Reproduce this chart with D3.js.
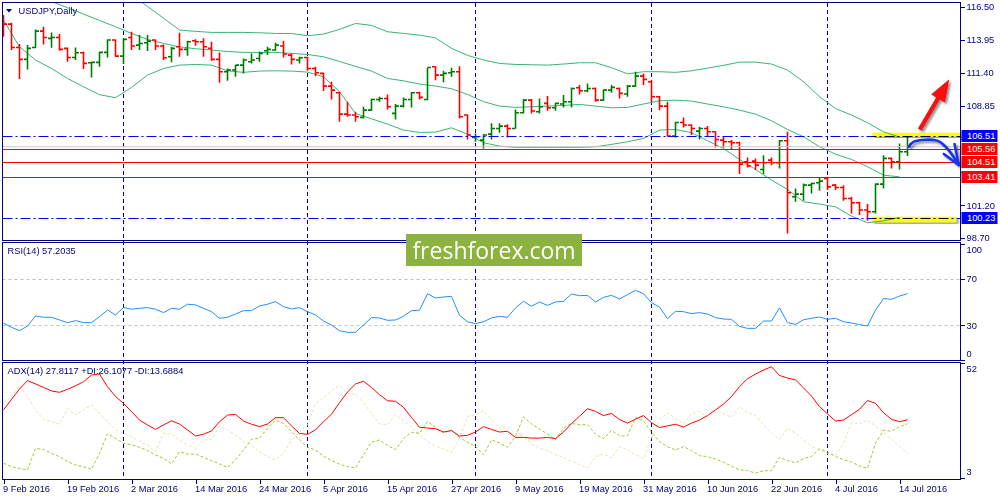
<!DOCTYPE html>
<html>
<head>
<meta charset="utf-8">
<script src="https://cdnjs.cloudflare.com/ajax/libs/d3/7.8.5/d3.min.js"></script>
<style>
  html, body { margin: 0; padding: 0; background: #fff; }
  svg { display: block; }
  text { font-family: 'Liberation Sans', Arial, sans-serif; font-size: 9.3px; fill: #000080; }
  .box-label { fill: #fff; }
  .watermark { font-family: 'Open Sans', sans-serif; font-size: 23px; fill: #fff; }
</style>
</head>
<body>
<div id="chart"></div>
<script>
// USDJPY daily bars, 9 Feb 2016 .. 15 Jul 2016 (one value per trading day)
const open = [115.47,115.16,113.36,112.44,113.36,114.62,114.06,114.13,113.29,112.59,
  112.95,112.18,112.21,112.98,113.93,112.69,114.13,113.54,113.72,113.93,
  113.47,112.64,113.41,113.21,113.88,113.80,113.29,112.44,111.49,111.62,
  112.00,112.26,112.51,113.11,113.16,113.47,112.77,112.39,112.59,111.74,
  111.36,110.38,109.87,108.22,108.15,107.97,108.53,109.35,109.43,108.28,
  108.84,109.35,109.87,109.35,111.87,111.23,111.41,111.49,108.15,106.43,
  106.22,106.68,107.12,107.30,107.12,108.33,109.30,108.40,109.05,108.71,
  109.00,109.18,110.25,110.02,110.20,109.30,110.07,110.20,109.77,110.38,
  111.15,110.72,109.56,108.84,106.53,107.58,107.38,106.91,107.12,106.86,
  106.22,106.09,106.02,104.55,104.60,103.96,104.68,104.47,106.17,101.85,
  102.06,102.75,102.93,103.27,102.75,102.57,101.72,101.39,100.83,100.70,
  102.83,104.81,104.55,105.32];
const high = [115.86,115.26,113.62,113.54,114.75,114.96,114.52,114.39,113.36,113.36,
  113.05,112.26,113.03,113.98,113.98,114.06,114.57,114.31,114.31,113.98,
  113.59,113.41,114.49,113.88,114.00,114.06,113.80,112.98,111.74,112.00,
  112.51,112.90,113.03,113.41,113.72,113.88,112.90,112.64,112.64,111.87,
  111.41,110.72,109.95,109.18,108.40,108.79,109.43,109.56,109.74,109.00,
  109.51,109.90,109.95,111.82,111.92,111.56,111.80,111.92,108.20,106.73,
  106.68,107.51,107.51,107.45,108.58,109.38,109.38,109.43,109.61,109.10,
  109.69,110.28,110.46,110.59,110.28,110.13,110.46,110.28,110.46,111.49,
  111.36,110.84,109.61,109.18,107.63,107.97,107.45,107.25,107.30,106.91,
  106.48,106.22,106.09,104.88,104.81,105.06,104.88,106.22,106.86,102.50,
  102.88,102.96,103.32,103.39,102.83,102.75,101.85,101.47,101.29,102.88,
  105.06,104.88,105.96,106.48];
const low = [114.19,113.16,110.92,111.67,113.29,113.59,113.34,113.11,112.26,112.39,
  111.69,111.05,111.87,112.59,112.64,112.08,113.16,113.16,113.08,113.16,
  112.39,112.21,112.64,112.72,113.49,112.64,112.33,110.64,110.79,111.10,
  111.36,112.13,112.26,112.77,113.11,112.59,112.05,112.13,111.56,111.15,
  110.00,109.35,107.63,108.02,107.63,107.89,108.48,109.18,108.58,107.81,
  108.74,108.74,109.35,109.30,110.84,110.67,111.10,107.89,106.27,106.09,
  105.58,106.27,106.79,106.43,107.12,108.28,108.28,108.28,108.48,108.48,
  108.74,108.74,109.74,109.90,109.18,109.25,109.87,109.43,109.56,110.33,
  110.46,109.18,108.53,106.48,106.43,107.20,106.61,106.27,106.48,105.66,
  105.63,105.45,103.60,104.11,103.91,103.60,104.29,104.04,99.03,101.47,
  101.55,102.11,102.32,102.37,102.37,101.55,100.57,100.44,100.00,100.57,
  102.50,104.04,103.96,104.99];
const close = [115.16,113.36,112.44,113.29,114.62,114.13,114.13,113.21,112.59,112.95,
  112.13,112.21,112.98,113.93,112.69,113.98,113.47,113.67,113.85,113.47,
  112.57,113.29,113.21,113.80,113.80,113.41,112.44,111.49,111.62,112.00,
  112.39,112.39,112.90,113.21,113.54,112.85,112.44,112.57,111.74,111.41,
  110.38,110.07,108.22,108.15,108.02,108.53,109.35,109.43,108.79,108.84,
  109.35,109.87,109.51,111.82,111.23,111.36,111.49,108.02,106.61,106.48,
  106.61,107.12,107.30,107.12,108.33,109.30,108.46,108.79,108.71,109.05,
  109.18,110.20,110.02,110.20,109.30,110.07,110.28,109.82,110.38,111.15,
  110.90,109.56,108.84,106.53,107.58,107.38,107.12,107.12,106.86,106.27,
  106.09,106.02,104.37,104.22,104.29,104.47,104.47,106.17,102.16,102.06,
  102.75,102.88,103.06,102.62,102.57,101.72,101.39,100.83,100.70,102.83,
  104.81,104.55,105.32,105.71];

// Bollinger bands read every second bar (bars 0, 2, 4 ... 112)
const BAND_STEP = 2;
const bbUpper = [122.0,121.7,121.3,120.8,120.2,119.6,119.0,118.2,117.4,116.52,
  115.62,114.70,114.60,114.52,114.52,114.52,114.49,114.44,114.44,114.26,
  114.39,114.75,115.21,115.06,114.57,114.44,114.31,114.10,113.29,112.75,
  112.39,112.13,112.05,112.03,112.00,112.08,112.18,112.18,111.80,111.33,
  111.49,111.49,111.44,111.56,111.77,111.98,112.23,112.23,112.08,111.62,
  110.72,109.56,108.66,108.15,107.56,106.86,106.45];
const bbMiddle = [118.4,117.9,117.4,116.9,116.42,115.93,115.44,114.96,114.44,113.98,
  113.67,113.41,113.26,113.16,113.05,112.98,112.98,112.98,112.90,112.82,
  112.64,112.28,111.90,111.54,110.97,110.79,110.54,110.38,110.18,109.74,
  109.18,108.84,108.74,108.79,108.84,108.89,108.97,108.84,108.71,108.74,
  109.00,109.25,109.30,109.23,109.00,108.79,108.53,108.22,107.71,107.04,
  106.48,105.71,105.14,104.73,104.17,103.52,103.39];
const bbLower = [115.47,113.41,112.39,111.74,110.97,110.33,109.72,109.49,110.28,111.23,
  111.74,112.00,112.05,112.00,111.56,111.44,111.54,111.56,111.54,111.46,
  111.10,109.95,108.28,107.86,107.45,106.99,106.81,106.84,107.17,106.68,
  106.02,105.76,105.66,105.66,105.66,105.66,105.66,105.71,105.89,106.09,
  106.35,106.99,107.04,106.79,106.17,105.58,104.73,103.96,103.14,102.42,
  101.47,101.29,101.08,100.36,99.85,100.00,100.26];

const rsi = [31.8,28.3,25.4,29.4,38.0,36.9,36.9,34.6,32.3,34.0,
  32.3,32.3,37.4,43.2,38.9,45.2,43.8,44.6,45.2,43.8,
  40.9,44.6,43.8,48.1,47.5,44.6,41.7,36.0,36.9,39.7,
  42.6,42.6,46.6,48.1,50.3,46.0,44.0,45.2,41.7,38.9,
  33.7,30.2,25.4,24.0,24.0,30.3,36.6,36.3,34.3,34.6,
  37.7,42.6,42.9,57.1,53.4,54.3,54.9,38.6,33.1,31.4,
  33.1,36.3,37.7,36.9,44.9,50.6,46.3,50.0,47.1,50.0,
  50.6,56.9,55.4,55.7,50.0,54.0,55.7,52.6,56.3,60.0,
  57.1,49.4,45.7,35.7,42.0,41.7,40.0,40.9,39.7,36.6,
  35.4,35.1,29.1,27.4,27.4,33.7,33.7,44.9,32.3,30.8,
  34.8,36.0,37.1,35.1,36.0,33.1,32.0,30.6,29.4,43.1,
  52.9,52.3,55.1,57.2];
const adx = [32.0,36.5,40.9,44.5,43.1,41.6,40.1,39.5,40.8,42.3,
  44.0,46.9,47.3,41.9,37.7,34.8,31.3,27.7,25.6,23.7,
  25.6,27.4,26.0,23.5,20.9,21.7,23.0,27.0,29.8,30.1,
  27.3,25.9,24.9,26.0,28.7,28.7,25.2,22.0,21.6,23.5,
  27.0,30.2,35.1,39.6,43.1,44.2,41.6,38.5,35.9,35.7,
  33.1,28.8,24.6,24.3,24.0,22.6,23.2,20.9,21.2,22.6,
  24.9,23.7,22.6,22.9,20.3,20.3,20.0,20.0,20.3,19.8,
  22.6,26.2,29.3,32.5,31.4,29.6,30.5,27.9,26.4,28.1,
  29.6,26.6,24.5,25.2,25.9,24.7,26.4,27.7,29.6,32.0,
  34.5,37.7,41.9,45.3,47.3,49.0,50.4,46.7,45.6,44.8,
  41.4,37.9,33.4,30.3,27.3,27.7,30.0,32.3,36.0,34.8,
  30.8,28.0,27.0,27.8];
const plusDI = [9.3,7.8,7.1,6.4,15.6,15.2,13.5,12.1,10.0,8.5,
  7.8,6.7,13.5,21.8,19.9,17.8,17.1,16.1,14.7,12.8,
  11.4,9.0,14.2,13.2,13.2,11.8,10.4,9.0,7.5,10.7,
  14.9,19.5,19.9,24.2,27.7,26.3,22.7,19.2,16.1,14.9,
  12.3,10.5,8.9,7.8,7.3,12.9,18.3,19.2,16.9,15.1,
  19.8,22.5,22.0,27.1,24.6,22.2,23.4,20.3,18.2,16.5,
  12.9,19.3,17.9,16.1,20.8,29.0,26.0,23.9,21.7,19.3,
  24.3,26.3,25.7,25.7,21.7,19.8,23.3,20.9,21.0,28.8,
  27.4,22.4,18.5,16.4,14.9,16.4,14.7,12.5,12.1,11.1,
  9.8,8.0,6.5,6.1,5.1,6.1,6.1,11.8,10.4,9.5,
  11.2,12.2,15.4,14.2,12.2,10.8,9.8,8.1,7.1,17.8,
  23.4,22.9,24.9,26.1];
const minusDI = [34.8,37.7,42.6,37.7,32.0,28.0,27.0,25.9,32.7,29.8,
  32.0,34.1,30.6,27.0,23.5,22.0,20.6,18.5,17.1,14.2,
  22.0,21.8,19.2,17.1,15.6,19.2,19.5,25.2,23.5,21.3,
  18.5,17.1,14.2,12.1,10.7,13.5,19.2,22.7,25.6,34.8,
  37.2,40.2,42.5,39.2,38.5,35.1,30.4,26.0,25.7,30.0,
  27.4,24.9,21.2,18.6,16.5,15.5,13.9,20.0,29.3,30.0,
  31.7,27.9,24.3,25.0,21.8,20.8,17.5,15.8,14.6,12.9,
  11.8,10.1,8.7,7.3,12.1,13.2,11.5,16.4,15.1,12.9,
  11.2,20.0,27.7,30.8,28.4,26.0,30.4,31.3,28.7,31.7,
  30.3,28.9,33.4,30.8,29.7,25.6,22.3,19.5,24.2,22.0,
  19.2,16.6,14.9,13.5,12.5,17.8,26.7,26.0,27.7,25.2,
  22.5,19.5,16.4,13.7];

const tickLabels = ['9 Feb 2016','19 Feb 2016','2 Mar 2016','14 Mar 2016','24 Mar 2016',
  '5 Apr 2016','15 Apr 2016','27 Apr 2016','9 May 2016','19 May 2016','31 May 2016',
  '10 Jun 2016','22 Jun 2016','4 Jul 2016','14 Jul 2016'];
const TICK_EVERY = 8;
const priceTicks = [116.50, 113.95, 111.40, 108.85, 106.30, 103.75, 101.20, 98.70];
const rsiTicks = [100, 70, 30, 0];
const rsiLevels = [70, 30];
const adxTicks = [52, 3];

// horizontal levels drawn on the chart
const levelPrices = [106.51, 105.56, 104.51, 103.41, 100.23];
const levelTypes = ['zone', 'target', 'target', 'target', 'zone'];

// hand-drawn annotations, in [bar, price]
const highlightBoxes = [
  [[108.6, 106.79], [119.6, 106.48]],
  [[108.6, 100.32], [119.1, 99.89]],
];
const upArrow = [[114.54, 107.05], [118.16, 110.85]];
const turnCurve = [[113.16, 105.71], [113.79, 106.10], [116.71, 106.18], [117.75, 105.72], [118.59, 105.07], [119.41, 104.30]];
const turnHead = [[118.88, 105.92], [119.41, 104.30], [117.54, 105.15]];

const NAVY = '#000080';
const width = 1000;
const height = 500;
const plotLeft = 2.5;
const plotRight = 960.5;
const panels = {
  price: { top: 2.5, bottom: 240.5 },
  rsi: { top: 242.5, bottom: 360.5 },
  adx: { top: 362.5, bottom: 479.5 },
};
const levelStyle = {
  zone: { color: '#0000ff', dash: '10,3,2,3' },
  target: { color: '#ff0000', dash: null },
};

const barCount = open.length;
const bars = d3.range(barCount).map(i => ({ i, o: open[i], h: high[i], l: low[i], c: close[i] }));
const dates = d3.timeDay.range(new Date(2016, 1, 9), new Date(2016, 6, 16)).filter(d => d.getDay() % 6 !== 0);
const monthStarts = d3.range(1, barCount).filter(i => dates[i].getMonth() !== dates[i - 1].getMonth());
const tickBars = tickLabels.map((_, k) => k * TICK_EVERY);

const x = d3.scaleLinear().domain([0, 1]).range([3.5, 11.5]);
const yPrice = d3.scaleLinear().domain([98.70, 116.50]).range([237.7, 6.7]);
const yRsi = d3.scaleLinear().domain([0, 100]).range([360.3, 243.7]);
const yAdx = d3.scaleLinear().domain([3, 52]).range([478, 363]);

const svg = d3.select('#chart').append('svg').attr('width', width).attr('height', height);
const defs = svg.append('defs');

Object.entries(panels).forEach(([name, p]) => {
  defs.append('clipPath').attr('id', `clip-${name}`)
    .append('rect').attr('x', plotLeft).attr('y', p.top)
    .attr('width', plotRight - plotLeft).attr('height', p.bottom - p.top);
});

defs.append('filter').attr('id', 'shadow').attr('x', '-30%').attr('y', '-30%').attr('width', '160%').attr('height', '160%')
  .append('feDropShadow').attr('dx', 2).attr('dy', 2).attr('stdDeviation', 1.3)
  .attr('flood-color', '#000').attr('flood-opacity', 0.45);

// month separators across all panels
svg.append('g').selectAll('line').data(monthStarts).join('line')
  .attr('x1', d => x(d)).attr('x2', d => x(d))
  .attr('y1', panels.price.top).attr('y2', panels.adx.bottom)
  .attr('stroke', NAVY).attr('stroke-dasharray', '4,3')
  .attr('shape-rendering', 'crispEdges');

// ---- price panel ----
const pricePanel = svg.append('g').attr('clip-path', 'url(#clip-price)');

const bandLine = d3.line().x((d, k) => x(k * BAND_STEP)).y(d => yPrice(d));
[bbUpper, bbMiddle, bbLower].forEach(band => {
  pricePanel.append('path').attr('d', bandLine(band))
    .attr('fill', 'none').attr('stroke', '#3cb371').attr('stroke-width', 1);
});

pricePanel.append('g').selectAll('path').data(bars).join('path')
  .attr('d', ({ i, o, h, l, c }) => {
    const xi = x(i);
    return `M${xi},${yPrice(h)}V${yPrice(l)}M${xi - 3.5},${yPrice(o)}H${xi}M${xi},${yPrice(c)}H${xi + 3.5}`;
  })
  .attr('fill', 'none')
  .attr('stroke', ({ o, c }) => (c >= o ? '#007a00' : '#ff0000'))
  .attr('stroke-width', 1.6);

// bid line at last close
pricePanel.append('line')
  .attr('x1', plotLeft).attr('x2', plotRight)
  .attr('y1', yPrice(close[barCount - 1])).attr('y2', yPrice(close[barCount - 1]))
  .attr('stroke', '#c8c8c8').attr('stroke-width', 1);

const levels = levelPrices.map((price, k) => ({ price, type: levelTypes[k] }));
pricePanel.append('g').selectAll('line').data(levels).join('line')
  .attr('x1', plotLeft).attr('x2', plotRight)
  .attr('y1', d => Math.round(yPrice(d.price)) + 0.5).attr('y2', d => Math.round(yPrice(d.price)) + 0.5)
  .attr('stroke', d => levelStyle[d.type].color)
  .attr('stroke-dasharray', d => levelStyle[d.type].dash)
  .attr('stroke-width', 1);

// yellow marker strokes (multiply, like a highlighter)
svg.append('g').style('mix-blend-mode', 'multiply').selectAll('rect').data(highlightBoxes).join('rect')
  .attr('x', d => x(d[0][0])).attr('y', d => yPrice(d[0][1]))
  .attr('width', d => x(d[1][0]) - x(d[0][0]))
  .attr('height', d => yPrice(d[1][1]) - yPrice(d[0][1]))
  .attr('fill', '#ffff00').attr('filter', 'url(#shadow)');

// red "breakout" arrow
const arrowPolygon = ([tail, tip]) => {
  const [tx, ty] = [x(tail[0]), yPrice(tail[1])];
  const [px, py] = [x(tip[0]), yPrice(tip[1])];
  const len = Math.hypot(px - tx, py - ty);
  const [ux, uy] = [(px - tx) / len, (py - ty) / len];
  const [nx, ny] = [-uy, ux];
  const shaft = 1.8;
  const headLen = 21;
  const headHalf = 7.5;
  const [bx, by] = [px - ux * headLen, py - uy * headLen];
  return [
    [tx + nx * shaft, ty + ny * shaft], [bx + nx * shaft, by + ny * shaft], [bx + nx * headHalf, by + ny * headHalf],
    [px, py],
    [bx - nx * headHalf, by - ny * headHalf], [bx - nx * shaft, by - ny * shaft], [tx - nx * shaft, ty - ny * shaft],
  ];
};
svg.append('polygon')
  .attr('points', arrowPolygon(upArrow).map(p => p.join(',')).join(' '))
  .attr('fill', '#ff1010').attr('stroke', '#d00000').attr('stroke-width', 0.6)
  .attr('filter', 'url(#shadow)');

// blue "pullback" arrow
const curveLine = d3.line().x(d => x(d[0])).y(d => yPrice(d[1])).curve(d3.curveCatmullRom);
const turnGroup = svg.append('g').attr('filter', 'url(#shadow)');
turnGroup.append('path').attr('d', curveLine(turnCurve))
  .attr('fill', 'none').attr('stroke', '#1535e8').attr('stroke-width', 2.6).attr('stroke-linecap', 'round');
turnGroup.append('path').attr('d', d3.line().x(d => x(d[0])).y(d => yPrice(d[1]))(turnHead))
  .attr('fill', 'none').attr('stroke', '#1535e8').attr('stroke-width', 2.6)
  .attr('stroke-linecap', 'round').attr('stroke-linejoin', 'round');

svg.append('path').attr('d', 'M6,9h6l-3,3.5z').attr('fill', NAVY);
svg.append('text').attr('x', 18.5).attr('y', 14).text('USDJPY,Daily');

// ---- RSI panel ----
const rsiPanel = svg.append('g').attr('clip-path', 'url(#clip-rsi)');
rsiPanel.append('g').selectAll('line').data(rsiLevels).join('line')
  .attr('x1', plotLeft).attr('x2', plotRight)
  .attr('y1', d => Math.round(yRsi(d)) + 0.5).attr('y2', d => Math.round(yRsi(d)) + 0.5)
  .attr('stroke', '#c0c0c0').attr('stroke-dasharray', '3,3');
rsiPanel.append('path')
  .attr('d', d3.line().x((d, i) => x(i)).y(d => yRsi(d))(rsi))
  .attr('fill', 'none').attr('stroke', '#1e90ff').attr('stroke-width', 1);
svg.append('text').attr('x', 7.5).attr('y', 254).text('RSI(14) 57.2035');

// ---- ADX panel ----
const adxPanel = svg.append('g').attr('clip-path', 'url(#clip-adx)');
const idxLine = d3.line().x((d, i) => x(i)).y(d => yAdx(d));
adxPanel.append('path').attr('d', idxLine(minusDI))
  .attr('fill', 'none').attr('stroke', '#f5deb3').attr('stroke-width', 1).attr('stroke-dasharray', '3,2');
adxPanel.append('path').attr('d', idxLine(plusDI))
  .attr('fill', 'none').attr('stroke', '#9acd32').attr('stroke-width', 1).attr('stroke-dasharray', '3,2');
adxPanel.append('path').attr('d', idxLine(adx))
  .attr('fill', 'none').attr('stroke', '#ff0000').attr('stroke-width', 1);
svg.append('text').attr('x', 7.5).attr('y', 374).text('ADX(14) 27.8117 +DI:26.1077 -DI:13.6884');

// panel frames
Object.values(panels).forEach(p => {
  svg.append('rect').attr('x', plotLeft).attr('y', p.top)
    .attr('width', plotRight - plotLeft).attr('height', p.bottom - p.top)
    .attr('fill', 'none').attr('stroke', NAVY).attr('shape-rendering', 'crispEdges');
});

// ---- axes ----
const styleAxis = g => {
  g.select('.domain').remove();
  g.attr('font-size', null).attr('font-family', null);
  g.selectAll('line').attr('stroke', NAVY).attr('shape-rendering', 'crispEdges');
};

// scale prices sitting under a level tag keep their tick but not their text
const hiddenByTag = v => levelPrices.some(p => Math.abs(yPrice(p) - yPrice(v)) < 9);
svg.append('g').attr('transform', `translate(${plotRight},0)`)
  .call(d3.axisRight(yPrice).tickValues(priceTicks)
    .tickFormat(v => (hiddenByTag(v) ? '' : d3.format('.2f')(v))).tickSize(4).tickPadding(2))
  .call(styleAxis);

svg.append('g').attr('transform', `translate(${plotRight},0)`)
  .call(d3.axisRight(yRsi).tickValues(rsiTicks).tickFormat(d3.format('d')).tickSize(4).tickPadding(2))
  .call(styleAxis)
  .call(g => g.selectAll('.tick text').attr('y', d => (d === 100 ? 5.5 : d === 0 ? -7 : 0)));

svg.append('g').attr('transform', `translate(${plotRight},0)`)
  .call(d3.axisRight(yAdx).tickValues(adxTicks).tickFormat(d3.format('d')).tickSize(4).tickPadding(2))
  .call(styleAxis)
  .call(g => g.selectAll('.tick text').attr('y', d => (d === 52 ? 6 : -6)));

svg.append('g').attr('transform', `translate(0,${panels.adx.bottom})`)
  .call(d3.axisBottom(x).tickValues(tickBars).tickFormat((d, k) => tickLabels[k]).tickSize(4).tickPadding(2))
  .call(styleAxis)
  .call(g => g.selectAll('.tick text').attr('text-anchor', 'start').attr('x', -1));

// coloured price labels for the levels
const levelTags = svg.append('g').selectAll('g').data(levels).join('g')
  .attr('transform', d => `translate(${plotRight + 1},${Math.round(yPrice(d.price))})`);
levelTags.append('rect').attr('x', 0).attr('y', -6).attr('width', 36).attr('height', 12)
  .attr('fill', d => levelStyle[d.type].color);
levelTags.append('text').attr('class', 'box-label').attr('x', 5.5).attr('dy', '0.35em')
  .text(d => d.price.toFixed(2));

// watermark
const mark = svg.append('g');
mark.append('rect').attr('x', 406).attr('y', 234).attr('width', 176).attr('height', 32).attr('fill', '#8cb33f');
mark.append('text').attr('class', 'watermark').attr('x', 494).attr('y', 258.5)
  .attr('text-anchor', 'middle').text('freshforex.com');
</script>
</body>
</html>
